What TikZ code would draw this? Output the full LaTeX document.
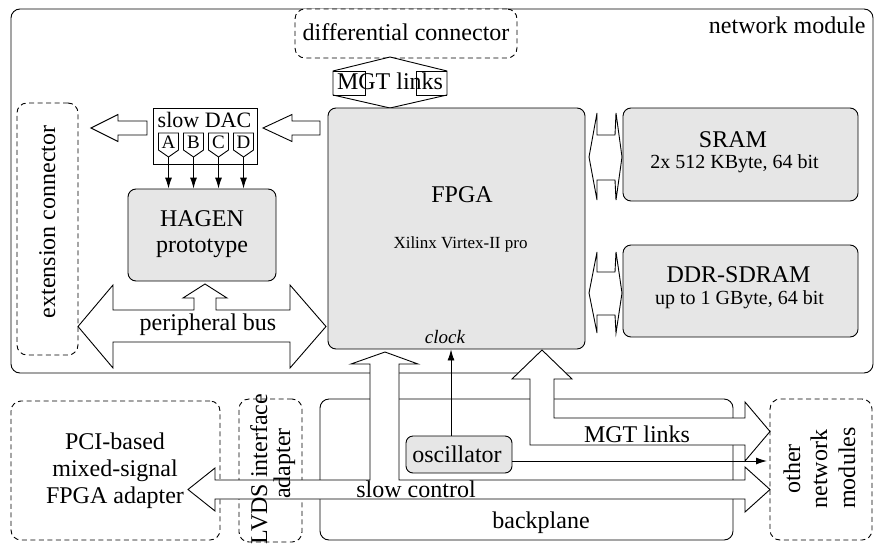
\documentclass[tikz,border=0pt]{standalone}
\usepackage{fontspec}
\setmainfont{Liberation Serif}
\usetikzlibrary{fit,arrows.meta}
\definecolor{chipgray}{HTML}{E6E6E6}
\tikzset{
  frame/.style={draw, rounded corners=9pt, inner sep=0pt},
  chip/.style={draw, fill=chipgray, rounded corners=8pt, inner sep=0pt},
  ext/.style={draw, fill=white, dash pattern=on 5pt off 3.5pt, rounded corners=10pt, inner sep=0pt},
  fat/.style={draw, fill=white, line join=miter},
  txt/.style={inner sep=0pt, font=\fontsize{24}{27}\selectfont},
  subtxt/.style={inner sep=0pt, font=\fontsize{20}{22}\selectfont},
  xiltxt/.style={inner sep=0pt, font=\fontsize{17}{19}\selectfont},
  clktxt/.style={inner sep=0pt, font=\fontsize{19}{21}\selectfont\itshape},
  dactxt/.style={inner sep=0pt, font=\fontsize{22}{24}\selectfont},
  pintxt/.style={inner sep=0pt, font=\fontsize{19}{21}\selectfont},
  sig/.style={-{Latex[length=11pt,width=7pt]}},
}
\begin{document}
\begin{tikzpicture}[x=1pt, y=-1pt, line width=0.9pt]
\useasboundingbox (0,0) rectangle (874,543);

% ---------- network module ----------
\node[frame, fit={(11,9)(873,373)}] (module) {};
\node[txt, anchor=base east] (modlabel) at (866,34) {network module};

\node[ext, fit={(295,9)(517,58)}] (diffconn) {};
\node[txt, anchor=base] (difflabel) at (406,41) {differential connector};

% MGT links to the differential connector
\draw[fat] (390,57) -- (333,71) -- (333,95) -- (390,108) -- (447,95) -- (447,71) -- cycle;
\draw (333,71) -- (365,71) -- (365,95) -- (333,95)
      (447,71) -- (416,71) -- (416,95) -- (447,95);
\node[txt, anchor=base] (mgttop) at (390,89) {MGT links};

% extension connector
\node[ext, fit={(17,103)(78,355)}] (extconn) {};
\node[txt, rotate=90, anchor=base] (extlabel) at (55,222) {extension connector};

% FPGA
\node[chip, fit={(328,108)(585,349)}] (fpga) {};
\node[txt, anchor=base] (fpgalabel) at (462,202) {FPGA};
\node[xiltxt, anchor=base] (xilinx) at (460.5,248) {Xilinx Virtex-II pro};
\node[clktxt, anchor=base] (clocklabel) at (445,343) {clock};

% HAGEN prototype
\node[chip, fit={(128,189)(276,281)}] (hagen) {};
\node[txt, anchor=base] (hagen1) at (202,226) {HAGEN};
\node[txt, anchor=base] (hagen2) at (202,252) {prototype};

% slow DAC with its four outputs
\node[draw, fill=white, inner sep=0pt, fit={(153,108)(257,164)}] (dac) {};
\node[dactxt, anchor=base] (daclabel) at (204.5,127) {slow DAC};
\foreach \c/\x in {A/168.5, B/193.5, C/218.5, D/243.5} {
  \draw (\x-10,133) -- (\x+10,133) -- (\x+10,150) -- (\x,157) -- (\x-10,150) -- cycle;
  \node[pintxt, anchor=base] (pin\c) at (\x,148) {\c};
  \coordinate (tip\c) at (\x,157);
  \draw[sig] (tip\c) -- (tip\c |- hagen.north);
}

% control arrows: FPGA -> slow DAC -> extension connector
\draw[fat] (147,121) -- (118,121) -- (118,114.5) -- (91,128) -- (118,141.5) -- (118,135) -- (147,135) -- cycle;
\draw[fat] (320,121) -- (292,121) -- (292,114.5) -- (263,128) -- (292,141.5) -- (292,135) -- (320,135) -- cycle;

% peripheral bus
\draw[fat] (78,326.5) -- (113,285) -- (113,310) -- (194,310) -- (194,298) -- (183,298)
  -- (205,284) -- (227,298) -- (216,298) -- (216,310) -- (290,310) -- (290,285)
  -- (326,326.5) -- (290,368) -- (290,342) -- (113,342) -- (113,368) -- cycle;
\node[txt, anchor=base] (buslabel) at (208,330) {peripheral bus};

% memories
\node[chip, fit={(623,108)(858,201)}] (sram) {};
\node[txt, anchor=base] (sram1) at (733,147) {SRAM};
\node[subtxt, anchor=base] (sram2) at (734.5,168) {2x 512 KByte, 64 bit};
\node[chip, fit={(623,245)(858,337)}] (ddr) {};
\node[txt, anchor=base] (ddr1) at (738.5,282) {DDR-SDRAM};
\node[subtxt, anchor=base] (ddr2) at (739.5,304) {up to 1 GByte, 64 bit};

% memory buses
\draw[fat] (589,157) -- (597,113) -- (597,135) -- (615,135) -- (616,113) -- (622,157)
  -- (616,200) -- (615,180) -- (597,180) -- (597,200) -- cycle;
\draw[fat] (589,293) -- (597,252) -- (597,272) -- (615,272) -- (616,252) -- (622,293)
  -- (616,333) -- (615,315) -- (597,315) -- (597,333) -- cycle;

% ---------- outside the module ----------
\node[frame, fit={(320,399)(733,540)}] (backplane) {};
\node[txt, anchor=base] (bplabel) at (541,528) {backplane};

\node[ext, fit={(11,401)(220,540)}] (pci) {};
\node[txt, anchor=base] (pci1) at (115,449) {PCI-based};
\node[txt, anchor=base] (pci2) at (115,476) {mixed-signal};
\node[txt, anchor=base] (pci3) at (115,503) {FPGA adapter};

\node[ext, fit={(239,399)(302,542)}] (lvds) {};
\node[ext, fit={(770,399)(872,540)}] (others) {};

\node[chip, rounded corners=7pt, fit={(406,436)(512,473)}] (osc) {};
\node[txt, anchor=base] (osclabel) at (457,462) {oscillator};

% slow control
\draw[fat] (188,489.5) -- (215,468) -- (215,480) -- (370,480) -- (370,364) -- (351,364)
  -- (385,352) -- (418,364) -- (399,364) -- (399,480) -- (745,480) -- (745,467)
  -- (770,489.5) -- (745,512) -- (745,499) -- (215,499) -- (215,511) -- cycle;
\node[txt, anchor=base] (sclabel) at (416,497) {slow control};

% MGT links to the other network modules
\draw[fat] (542,350) -- (572,379) -- (554,379) -- (554,418) -- (745,418) -- (745,402)
  -- (770,431.5) -- (745,461) -- (745,445) -- (530,445) -- (530,379) -- (512,379) -- cycle;
\node[txt, anchor=base] (mgtbottom) at (637,442) {MGT links};

% clock distribution
\coordinate (clkout) at ([xshift=-8pt]osc.north);
\draw[sig] (clkout) -- (clkout |- fpga.south);
\coordinate (oscout) at (512,461);
\coordinate (oscin) at (767,461);
\draw[sig] (oscout) -- (oscin);

% rotated labels
\node[txt, rotate=90, anchor=base] (lvds1) at (267,469) {LVDS interface};
\node[txt, rotate=90, anchor=base] (lvds2) at (290,463.5) {adapter};
\node[txt, rotate=90, anchor=base] (other1) at (800,469) {other};
\node[txt, rotate=90, anchor=base] (other2) at (827,469) {network};
\node[txt, rotate=90, anchor=base] (other3) at (855,468) {modules};
\end{tikzpicture}
\end{document}
